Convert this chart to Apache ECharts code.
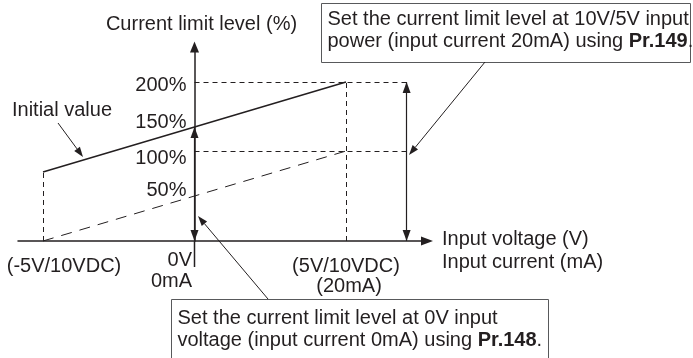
<!DOCTYPE html>
<html>
<head>
<meta charset="utf-8">
<script src="https://cdn.jsdelivr.net/npm/echarts@6/dist/echarts.min.js"></script>
<style>
  html, body { margin: 0; padding: 0; background: #fff; }
  #chart { width: 693px; height: 358px; }
</style>
</head>
<body>
<div id="chart"></div>
<script>
// Input signal positions (V)
const inputVoltage = [-5, 0, 5];
// Current limit level (%) - initial setting (Pr.148 = 150 %, Pr.149 = 200 %)
const initialLevel = [100, 150, 200];
// Current limit level (%) - example after changing Pr.148 / Pr.149
const adjustedLevel = [0, 50, 100];
// Level tick labels: upper pair belongs to the initial-value line, lower pair to the adjusted line
const upperLevelTicks = [150, 200];
const lowerLevelTicks = [50, 100];
// Input axis tick labels
const voltageTicks = [-5, 0, 5];
const voltageTickLabels = ['(-5V/10VDC)', '0V\n0mA', '(5V/10VDC)\n(20mA)'];
// Voltage at which the Pr.149 adjustment range is drawn
const rangeMarkerVoltage = 7;

const INK = '#231f20';
const FONT = '"Liberation Sans", Arial, Helvetica, sans-serif';
const FS = 20;

// The initial-value line is drawn on its own scale, lifted above the adjusted one
const SCALE_OFFSET = 23.3;
const Y_MIN = 0, Y_MAX = 215.6;
const X_MIN = -5.825, X_MAX = 7.673;
const GRID_LEFT = 18, GRID_RIGHT = 266;

const pairs = (xs, ys) => xs.map((x, i) => [x, ys[i]]);

const arrowHead = { symbol: 'triangle', symbolSize: [8, 11], symbolOffset: [0, '50%'] };

// thin annotation arrow: line plus filled head
function arrow(x1, y1, x2, y2, head = 10, halfW = 3.5) {
  const a = Math.atan2(y2 - y1, x2 - x1);
  const bx = x2 - head * Math.cos(a), by = y2 - head * Math.sin(a);
  const nx = -Math.sin(a) * halfW, ny = Math.cos(a) * halfW;
  return [
    { type: 'line', silent: true, shape: { x1, y1, x2: bx, y2: by }, style: { stroke: INK, lineWidth: 1 } },
    { type: 'polygon', silent: true, shape: { points: [[x2, y2], [bx + nx, by + ny], [bx - nx, by - ny]] }, style: { fill: INK } }
  ];
}

function noteBox(x, y, w, h, textTop, text) {
  return [
    { type: 'rect', silent: true, shape: { x, y, width: w, height: h }, style: { fill: '#fff', stroke: '#58595b', lineWidth: 1 } },
    { type: 'text', silent: true, x: x + 6, y: textTop,
      style: { text, fill: INK, fontSize: FS, fontFamily: FONT, lineHeight: 22, verticalAlign: 'top', align: 'left',
        rich: { b: { fontWeight: 'bold', fontSize: FS, fontFamily: FONT, fill: INK, lineHeight: 22 } } } }
  ];
}

// text token helper for rich labels
const tok = (padding, extra) => Object.assign({ fontFamily: FONT, fontSize: FS, color: INK, padding }, extra || {});

const chart = echarts.init(document.getElementById('chart'));

// distance that puts the level axes on the 0 V line
const zeroOffset = -((0 - X_MIN) / (X_MAX - X_MIN)) * (693 - GRID_LEFT - GRID_RIGHT);

chart.setOption({
  animation: false,
  grid: { left: GRID_LEFT, right: GRID_RIGHT, top: 47, bottom: 117, containLabel: false, outerBoundsMode: 'none' },
  xAxis: {
    type: 'value', min: X_MIN, max: X_MAX, position: 'bottom',
    axisLine: { onZero: false, symbol: ['none', 'triangle'], symbolSize: [9, 12],
      lineStyle: { color: INK, width: 1.5 } },
    axisTick: { show: false },
    splitLine: { show: false },
    axisLabel: {
      customValues: voltageTicks, margin: 7, color: INK, fontFamily: FONT, fontSize: FS,
      formatter: (v) => {
        const lines = voltageTickLabels[voltageTicks.indexOf(v)].split('\n');
        if (v < 0) return `{neg|${lines[0]}}`;
        if (v === 0) return `{zeroA|${lines[0]}}\n{zeroB|${lines[1]}}`;
        return `{posA|${lines[0]}}\n{posB|${lines[1]}}`;
      },
      rich: {
        neg: tok([8, 0, 0, 42]),
        zeroA: tok([2, 46, 0, 0], { align: 'right' }),
        zeroB: tok([1, 46, 0, 0], { align: 'right' }),
        posA: tok([8, 0, 0, 0]),
        posB: tok([0, 0, 0, 6])
      }
    },
    name: '{nA|Input voltage (V)}\n{nB|Input current (mA)}',
    nameLocation: 'end', nameGap: 15,
    nameTextStyle: {
      color: INK, fontFamily: FONT, fontSize: FS, align: 'left',
      rich: { nA: tok([20, 0, 0, 0]), nB: tok([3, 0, 0, 0]) }
    }
  },
  yAxis: [
    {
      type: 'value', min: Y_MIN, max: Y_MAX, position: 'left', offset: zeroOffset,
      axisLine: { show: true, onZero: false, symbol: ['none', 'triangle'], symbolSize: [9, 11],
        lineStyle: { color: INK, width: 1.5 } },
      axisTick: { show: false },
      splitLine: { show: false },
      axisLabel: {
        customValues: lowerLevelTicks, margin: 8, color: INK, fontFamily: FONT, fontSize: FS,
        formatter: (v) => v === 50 ? `{up|${v}%}` : `{down|${v}%}`,
        rich: { up: tok([0, 0, 12, 0]), down: tok([14, 0, 0, 0]) }
      },
      name: 'Current limit level (%)',
      nameLocation: 'end', nameGap: 13,
      nameTextStyle: { color: INK, fontFamily: FONT, fontSize: FS, padding: [0, 0, 0, 14] }
    },
    {
      type: 'value', min: Y_MIN + SCALE_OFFSET, max: Y_MAX + SCALE_OFFSET, position: 'left', offset: zeroOffset,
      axisLine: { show: false, onZero: false },
      axisTick: { show: false },
      splitLine: { show: false },
      axisLabel: {
        customValues: upperLevelTicks, margin: 8, color: INK, fontFamily: FONT, fontSize: FS,
        formatter: (v) => v === 150 ? `{up|${v}%}` : `{down|${v}%}`,
        rich: { up: tok([0, 0, 10, 0]), down: tok([6, 0, 0, 0]) }
      }
    }
  ],
  series: [
    {
      name: 'Initial value', type: 'line', yAxisIndex: 1, silent: true, clip: false,
      data: pairs(inputVoltage, initialLevel),
      symbol: 'none',
      lineStyle: { color: INK, width: 1.5 },
      markLine: {
        silent: true, symbol: 'none', label: { show: false },
        lineStyle: { color: INK, width: 1, type: [5, 4] },
        data: [
          [{ coord: [inputVoltage[0], SCALE_OFFSET] }, { coord: [inputVoltage[0], initialLevel[0]] }],
          [{ coord: [inputVoltage[2], SCALE_OFFSET] }, { coord: [inputVoltage[2], initialLevel[2]] }],
          [{ coord: [0, initialLevel[2]] }, { coord: [rangeMarkerVoltage, initialLevel[2]] }],
          // Pr.149 adjustment range at full-scale input
          [{ coord: [rangeMarkerVoltage, SCALE_OFFSET], ...arrowHead, lineStyle: { type: 'solid', width: 1.2, color: INK } },
           { coord: [rangeMarkerVoltage, initialLevel[2]], ...arrowHead }],
          // Pr.148 adjustment range at 0V input
          [{ coord: [0, SCALE_OFFSET], ...arrowHead, lineStyle: { type: 'solid', width: 1.2, color: INK } },
           { coord: [0, initialLevel[1]], ...arrowHead }]
        ]
      }
    },
    {
      name: 'Adjusted', type: 'line', yAxisIndex: 0, silent: true, clip: false,
      data: pairs(inputVoltage, adjustedLevel),
      symbol: 'none',
      lineStyle: { color: INK, width: 1, type: [11, 8] },
      markLine: {
        silent: true, symbol: 'none', label: { show: false },
        lineStyle: { color: INK, width: 1, type: [5, 4] },
        data: [
          [{ coord: [0, adjustedLevel[2]] }, { coord: [rangeMarkerVoltage, adjustedLevel[2]] }]
        ]
      }
    }
  ]
});

// level axis continues a little below the input axis
const x0 = chart.convertToPixel({ xAxisIndex: 0 }, 0);
const yBase = chart.convertToPixel({ yAxisIndex: 0 }, 0);

chart.setOption({
  graphic: {
    elements: [
      { type: 'line', silent: true, shape: { x1: x0, y1: yBase, x2: x0, y2: yBase + 26 },
        style: { stroke: INK, lineWidth: 1.5 } },
      { type: 'text', silent: true, x: 12, y: 110,
        style: { text: 'Initial value', fill: INK, fontSize: FS, fontFamily: FONT, verticalAlign: 'middle' } },
      ...arrow(58, 123, 83, 157),
      ...noteBox(321.5, 3.5, 369, 59, 8, 'Set the current limit level at 10V/5V input\npower (input current 20mA) using {b|Pr.149}.'),
      ...arrow(485, 62, 409, 155),
      ...noteBox(171.5, 299.5, 377, 60, 307, 'Set the current limit level at 0V input\nvoltage (input current 0mA) using {b|Pr.148}.'),
      ...arrow(268, 299, 198, 216)
    ]
  }
});
</script>
</body>
</html>
